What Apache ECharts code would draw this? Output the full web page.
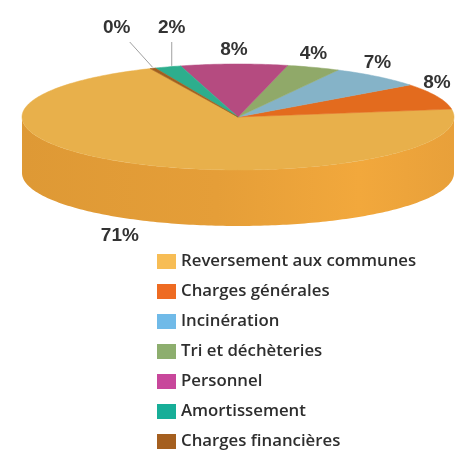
<!DOCTYPE html>
<html><head><meta charset="utf-8">
<script src="https://cdn.jsdelivr.net/npm/echarts@6/dist/echarts.min.js"></script>
<style>html,body{margin:0;padding:0;background:#fff}#c{width:455px;height:452px}</style>
</head><body><div id="c"></div>
<script>
// ---- data ----
const categories = ['Reversement aux communes','Charges générales','Incinération','Tri et déchèteries','Personnel','Amortissement','Charges financières'];
const values = [71, 8, 7, 4, 8, 2, 0.4];
const labelTexts = ['71%','8%','7%','4%','8%','2%','0%'];
const topColors = ['#E8B04B','#E36B1E','#85B3C8','#90A969','#B54B80','#2DAE8D','#A05F1E'];
const legendColors = ['#F7BD55','#EE6B22','#70BAE8','#8DAE6E','#C8479B','#17AE98','#A55F1F'];

// ---- geometry (layout only) ----
const CX = 238, CY = 117, RX = 216, RY = 53, DEPTH = 56, A0 = 246;
const total = values.reduce((a, b) => a + b, 0);
const ranges = [];
let cur = A0;
values.forEach(v => { const s = v / total * 360; ranges.push([cur - s, cur]); cur -= s; });
const rad = d => d * Math.PI / 180;
const pt = (a, dy) => [CX + RX * Math.cos(rad(a)), CY + RY * Math.sin(rad(a)) + (dy || 0)];

// small-slice label layout (avoid overlap, right to left)
const smallIdx = values.map((v, i) => i).filter(i => values[i] < 3)
  .sort((a, b) => pt((ranges[b][0] + ranges[b][1]) / 2)[0] - pt((ranges[a][0] + ranges[a][1]) / 2)[0]);
const smallPos = {};
let lastX = Infinity;
smallIdx.forEach(i => {
  const m = (ranges[i][0] + ranges[i][1]) / 2;
  const e = pt(m);
  let x = e[0] + 4, shifted = false;
  if (x > lastX - 55) { x = lastX - 55; shifted = true; }
  smallPos[i] = { x, shifted, e };
  lastX = x;
});

function arcPts(s, e, dy) {
  const pts = [];
  const n = Math.max(2, Math.ceil(Math.abs(e - s) / 1));
  for (let k = 0; k <= n; k++) pts.push(pt(s + (e - s) * k / n, dy));
  return pts;
}

const sideFill = {
  type: 'linear', x: CX - RX, y: 0, x2: CX + RX, y2: 0, global: true,
  colorStops: [
    { offset: 0, color: '#DE9935' }, { offset: 0.45, color: '#E59E38' },
    { offset: 0.78, color: '#F2A83C' }, { offset: 1, color: '#E8A03A' }
  ]
};

function renderItem(params, api) {
  const i = params.dataIndex;
  const [s, e] = ranges[i];
  const children = [];
  // side wall (front half only)
  for (let k = -1; k <= 1; k++) {
    const lo = Math.max(s, 360 * k), hi = Math.min(e, 360 * k + 180);
    if (hi > lo) {
      const top = arcPts(lo, hi, 0);
      const bot = arcPts(hi, lo, DEPTH);
      children.push({ type: 'polygon', shape: { points: top.concat(bot) },
        style: { fill: i === 0 ? sideFill : topColors[i] }, z2: 1 });
    }
  }
  // top face
  children.push({ type: 'polygon', shape: { points: [[CX, CY]].concat(arcPts(s, e, 0)) },
    style: { fill: topColors[i], stroke: topColors[i], lineWidth: 0.5 }, z2: 2 });
  // label
  const m = (s + e) / 2;
  const edge = pt(m);
  const tStyle = { text: labelTexts[i], fill: '#333', font: 'bold 19px "Liberation Sans", Arial, sans-serif',
    align: 'center', verticalAlign: 'middle' };
  if (smallPos[i]) {
    const p = smallPos[i];
    const endX = p.shifted ? p.x + 13 : p.x;
    children.push({ type: 'line', shape: { x1: p.shifted ? edge[0] : p.x, y1: edge[1] - 1, x2: endX, y2: 42 },
      style: { stroke: '#A0A0A0', lineWidth: 1 }, z2: 3 });
    children.push({ type: 'text', x: p.x, y: 28, style: tStyle, z2: 4 });
  } else if (Math.sin(rad(m)) > 0) {
    children.push({ type: 'text', x: CX + (RX + 30) * Math.cos(rad(m)),
      y: CY + (RY + 18) * Math.sin(rad(m)) + DEPTH, style: tStyle, z2: 4 });
  } else {
    children.push({ type: 'text', x: edge[0], y: edge[1] - 14, style: tStyle, z2: 4 });
  }
  return { type: 'group', children };
}

const chart = echarts.init(document.getElementById('c'), null, { renderer: 'canvas' });
chart.setOption({
  backgroundColor: '#fff',
  animation: false,
  legend: {
    orient: 'vertical', left: 157, top: 253, bottom: 0, icon: 'rect', padding: 0,
    itemWidth: 19, itemHeight: 15, itemGap: 13,
    data: categories,
    textStyle: { fontFamily: '"Open Sans", sans-serif', fontWeight: 600, fontSize: 16.8, color: '#2E2E2E' },
    selectedMode: false
  },
  series: [
    {
      type: 'pie', radius: [0, 0], center: [CX, CY], silent: true,
      label: { show: false }, labelLine: { show: false },
      data: categories.map((c, i) => ({ name: c, value: values[i], itemStyle: { color: legendColors[i] } }))
    },
    {
      type: 'custom', coordinateSystem: 'none', silent: true,
      renderItem,
      data: categories.map((c, i) => ({ name: c, value: values[i] }))
    }
  ]
});
</script></body></html>
